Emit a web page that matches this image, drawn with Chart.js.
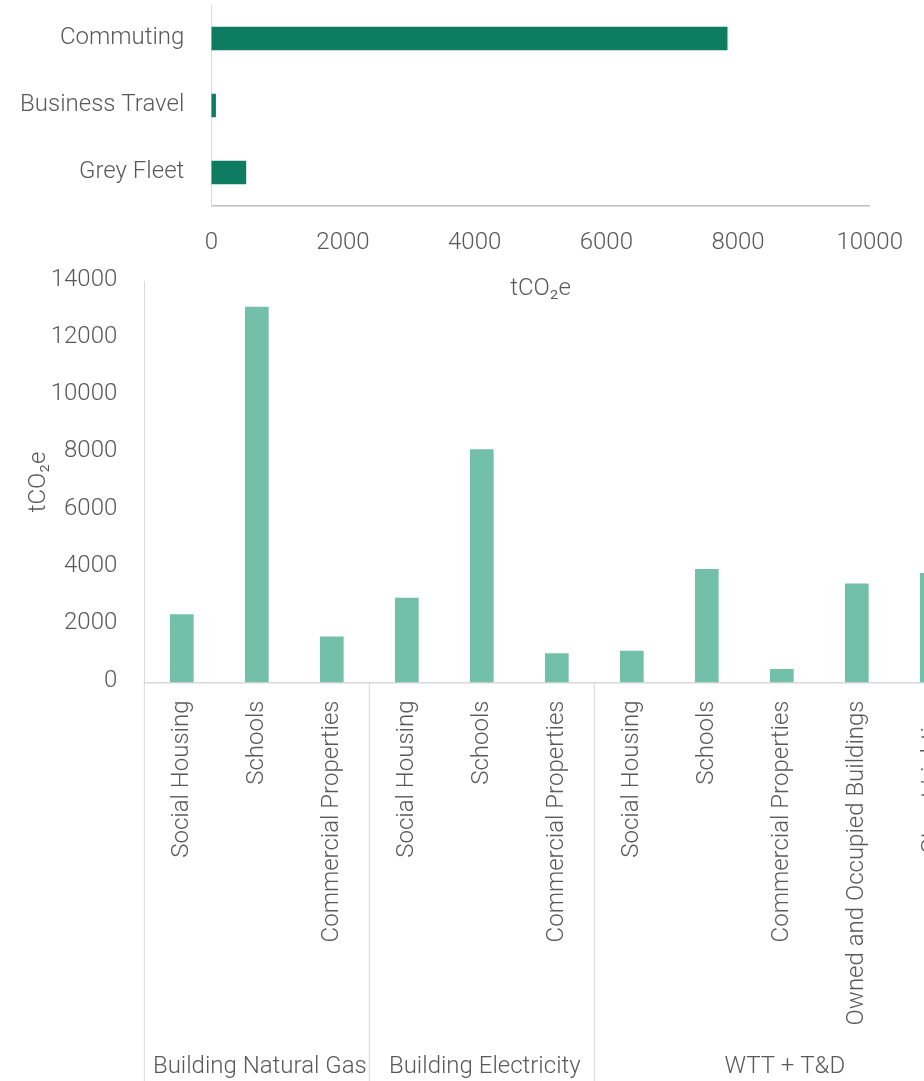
<!DOCTYPE html>
<html>
<head>
<meta charset="utf-8">
<title>Emissions by source</title>
<script src="https://cdn.jsdelivr.net/npm/chart.js@4.4.1/dist/chart.umd.min.js"></script>
<style>
  html, body { margin: 0; padding: 0; background: #ffffff; }
  body { width: 924px; height: 1081px; overflow: hidden; position: relative; }
  #energyChart { position: absolute; left: 0; top: 0; }
  #travelChart { position: absolute; left: 0; top: 0; }
</style>
</head>
<body>
<canvas id="energyChart" width="1000" height="1081"></canvas>
<canvas id="travelChart" width="924" height="320"></canvas>
<script>
// Travel emissions (tCO2e)
const travelCategories = ['Commuting', 'Business Travel', 'Grey Fleet'];
const travelValues = [7840, 70, 530];
const travelTicks = [0, 2000, 4000, 6000, 8000, 10000];

// Building energy emissions (tCO2e), grouped by source
const energyCategories = [
  'Social Housing', 'Schools', 'Commercial Properties',
  'Social Housing', 'Schools', 'Commercial Properties',
  'Social Housing', 'Schools', 'Commercial Properties', 'Owned and Occupied Buildings', 'Street Lighting'
];
const energyValues = [2380, 13120, 1610, 2960, 8140, 1020, 1110, 3960, 470, 3460, 3820];
const groupNames = ['Building Natural Gas', 'Building Electricity', 'WTT + T&D'];
const groupSizes = [3, 3, 5];
const energyTicks = [0, 2000, 4000, 6000, 8000, 10000, 12000, 14000];

const unitLabel = 'tCO\u2082e';
const textColor = '#595959';
const fontFamily = 'Roboto, "Liberation Sans", sans-serif';
const fontSize = 24;

Chart.defaults.font.family = fontFamily;
Chart.defaults.font.weight = '300';
Chart.defaults.color = textColor;

// Plain numbers on value axes (no thousands separator)
const plainNumber = (v) => String(v);

// Keep the plot area exactly where the layout padding puts it
function fixScale(size) {
  return (scale) => {
    if (scale.isHorizontal()) scale.height = size; else scale.width = size;
    scale.paddingTop = 0; scale.paddingBottom = 0;
    scale.paddingLeft = 0; scale.paddingRight = 0;
  };
}

// Horizontal bars: travel
new Chart(document.getElementById('travelChart'), {
  type: 'bar',
  data: {
    labels: travelCategories,
    datasets: [{
      data: travelValues,
      backgroundColor: '#0e7c61',
      borderWidth: 0,
      categoryPercentage: 1,
      barPercentage: 0.348
    }]
  },
  options: {
    indexAxis: 'y',
    responsive: false,
    animation: false,
    events: [],
    layout: { padding: { left: 0, right: 54.3, top: 5, bottom: 0 } },
    plugins: { legend: { display: false }, tooltip: { enabled: false } },
    scales: {
      x: {
        min: travelTicks[0],
        max: travelTicks[travelTicks.length - 1],
        afterBuildTicks: (scale) => { scale.ticks = travelTicks.map(v => ({ value: v })); },
        grid: { display: false, drawTicks: false },
        border: { display: true, color: '#bfbfbf', width: 1.5 },
        ticks: { padding: 23, font: { size: fontSize, weight: '300' }, color: textColor, callback: plainNumber },
        title: {
          display: true, text: unitLabel, color: textColor,
          font: { size: fontSize, weight: '300' }, padding: { top: 0, bottom: 17 }
        },
        afterFit: fixScale(320 - 206)
      },
      y: {
        grid: { display: false, drawTicks: false },
        border: { display: true, color: '#d9d9d9', width: 1 },
        ticks: { padding: 27, labelOffset: -1, font: { size: fontSize, weight: '300' }, color: textColor },
        afterFit: fixScale(211.3)
      }
    }
  }
});

// Group labels and dividers under the category axis
const groupAxisPlugin = {
  id: 'groupAxis',
  afterDraw(chart) {
    const ctx = chart.ctx;
    const xs = chart.scales.x;
    const area = chart.chartArea;
    const band = xs.getPixelForTick(1) - xs.getPixelForTick(0);
    ctx.save();
    ctx.strokeStyle = '#d9d9d9';
    ctx.lineWidth = 1;
    ctx.fillStyle = textColor;
    ctx.font = '300 ' + fontSize + 'px ' + fontFamily;
    ctx.textAlign = 'center';
    ctx.textBaseline = 'middle';
    let idx = 0;
    groupSizes.forEach((n, g) => {
      const left = xs.getPixelForTick(idx) - band / 2;
      const right = xs.getPixelForTick(idx + n - 1) + band / 2;
      ctx.beginPath();
      ctx.moveTo(left, area.bottom);
      ctx.lineTo(left, chart.height);
      ctx.stroke();
      if (g === groupSizes.length - 1) {
        ctx.beginPath();
        ctx.moveTo(right, area.bottom);
        ctx.lineTo(right, chart.height);
        ctx.stroke();
      }
      ctx.fillText(groupNames[g], (left + right) / 2 + 3, 1067);
      idx += n;
    });
    ctx.restore();
  }
};

// Vertical bars: building energy
new Chart(document.getElementById('energyChart'), {
  type: 'bar',
  data: {
    labels: energyCategories,
    datasets: [{
      data: energyValues,
      backgroundColor: '#73c0a8',
      borderWidth: 0,
      categoryPercentage: 1,
      barPercentage: 0.316
    }]
  },
  options: {
    responsive: false,
    animation: false,
    events: [],
    layout: { padding: { left: 0, right: 30.7, top: 281.5, bottom: 0 } },
    plugins: { legend: { display: false }, tooltip: { enabled: false } },
    scales: {
      x: {
        grid: { display: false, drawTicks: false },
        border: { display: true, color: '#d9d9d9', width: 1.5 },
        ticks: {
          autoSkip: false, minRotation: 90, maxRotation: 90, padding: 18,
          font: { size: fontSize, weight: '300' }, color: textColor
        },
        afterFit: fixScale(1081 - 682.5)
      },
      y: {
        min: energyTicks[0],
        max: energyTicks[energyTicks.length - 1],
        afterBuildTicks: (scale) => { scale.ticks = energyTicks.map(v => ({ value: v })); },
        grid: { display: false, drawTicks: false },
        border: { display: true, color: '#d9d9d9', width: 1 },
        ticks: { padding: 27, labelOffset: -2, font: { size: fontSize, weight: '300' }, color: textColor, callback: plainNumber },
        title: {
          display: true, text: unitLabel, color: textColor,
          font: { size: fontSize, weight: '300' }, padding: { top: 25, bottom: 0 }
        },
        afterFit: fixScale(144.3)
      }
    }
  },
  plugins: [groupAxisPlugin]
});
</script>
</body>
</html>
